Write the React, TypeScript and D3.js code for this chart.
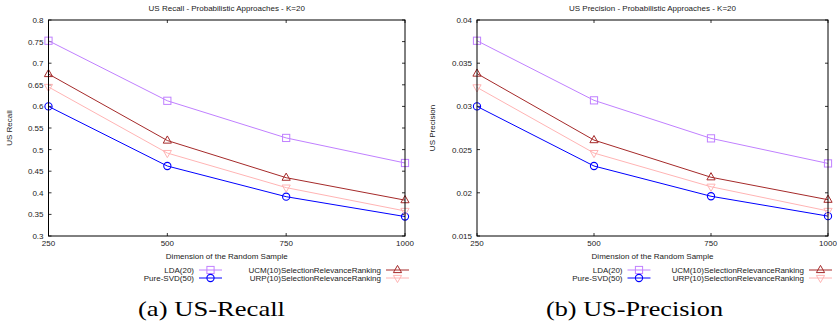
import { useEffect, useRef } from "react";
import * as d3 from "d3";

const sampleSizes = [250, 500, 750, 1000];
const seriesNames = [
  "LDA(20)",
  "Pure-SVD(50)",
  "UCM(10)SelectionRelevanceRanking",
  "URP(10)SelectionRelevanceRanking",
];
const seriesColors = ["#c080ff", "#0000ff", "#a52a2a", "#ffb4b4"];
const seriesMarkers = ["square", "circle", "triUp", "triDown"];

const recallLDA = [0.752, 0.613, 0.527, 0.469];
const recallSVD = [0.6, 0.462, 0.391, 0.345];
const recallUCM = [0.675, 0.521, 0.435, 0.383];
const recallURP = [0.645, 0.492, 0.412, 0.358];

const precLDA = [0.0376, 0.0307, 0.0263, 0.0234];
const precSVD = [0.03, 0.0231, 0.0196, 0.0173];
const precUCM = [0.0338, 0.0261, 0.0218, 0.0192];
const precURP = [0.0322, 0.0246, 0.0207, 0.0179];

const recallTicks = [0.3, 0.35, 0.4, 0.45, 0.5, 0.55, 0.6, 0.65, 0.7, 0.75, 0.8];
const precTicks = [0.015, 0.02, 0.025, 0.03, 0.035, 0.04];

const panels = [
  {
    title: "US Recall - Probabilistic Approaches - K=20",
    yLabel: "US Recall",
    caption: "(a) US-Recall",
    captionX: 211.5,
    captionW: 147,
    series: [recallLDA, recallSVD, recallUCM, recallURP],
    yDomain: [0.3, 0.8],
    yTicks: recallTicks,
    fmt: (v: number) => String(+v.toFixed(2)),
    left: 48.5,
    right: 405,
    yLabelX: 12,
  },
  {
    title: "US Precision - Probabilistic Approaches - K=20",
    yLabel: "US Precision",
    caption: "(b) US-Precision",
    captionX: 634.5,
    captionW: 177,
    series: [precLDA, precSVD, precUCM, precURP],
    yDomain: [0.015, 0.04],
    yTicks: precTicks,
    fmt: (v: number) => (+v.toFixed(3)).toString(),
    left: 477,
    right: 828,
    yLabelX: 435,
  },
];

const TOP = 20;
const BOTTOM = 236;
const FONT = "Liberation Sans, Arial, sans-serif";

function drawMarker(g: any, kind: string, x: number, y: number, color: string) {
  const s = 3.6;
  if (kind === "square") {
    g.append("rect")
      .attr("x", x - s)
      .attr("y", y - s)
      .attr("width", 2 * s)
      .attr("height", 2 * s)
      .attr("fill", "none")
      .attr("stroke", color)
      .attr("stroke-width", 1);
  } else if (kind === "circle") {
    g.append("circle")
      .attr("cx", x)
      .attr("cy", y)
      .attr("r", s)
      .attr("fill", "none")
      .attr("stroke", color)
      .attr("stroke-width", 1.1);
  } else {
    const up = kind === "triUp";
    const h = s * 1.0;
    const pts = up
      ? [[x, y - h - 1], [x - s - 0.5, y + h - 1], [x + s + 0.5, y + h - 1]]
      : [[x, y + h + 1], [x - s - 0.5, y - h + 1], [x + s + 0.5, y - h + 1]];
    g.append("polygon")
      .attr("points", pts.map((p) => p.join(",")).join(" "))
      .attr("fill", "none")
      .attr("stroke", color)
      .attr("stroke-width", 1);
  }
}

export default function App() {
  const svgRef = useRef<SVGSVGElement>(null);

  useEffect(() => {
    if (!svgRef.current) return;
    const svg = d3.select(svgRef.current);
    svg.selectAll("*").remove();

    panels.forEach((p) => {
      const g = svg.append("g");
      const x = d3.scaleLinear().domain([250, 1000]).range([p.left, p.right]);
      const y = d3.scaleLinear().domain(p.yDomain).range([BOTTOM, TOP]);
      const cx = (p.left + p.right) / 2;

      // title
      g.append("text")
        .attr("x", cx)
        .attr("y", 11)
        .attr("text-anchor", "middle")
        .attr("font-family", FONT)
        .attr("font-size", 8)
        .attr("fill", "#222")
        .text(p.title);

      // y ticks (mirrored)
      p.yTicks.forEach((t) => {
        const yy = y(t);
        g.append("line")
          .attr("x1", p.left).attr("x2", p.left + 3)
          .attr("y1", yy).attr("y2", yy)
          .attr("stroke", "#000").attr("stroke-width", 0.8);
        g.append("line")
          .attr("x1", p.right).attr("x2", p.right - 3)
          .attr("y1", yy).attr("y2", yy)
          .attr("stroke", "#000").attr("stroke-width", 0.8);
        g.append("text")
          .attr("x", p.left - 5)
          .attr("y", yy + 3)
          .attr("text-anchor", "end")
          .attr("font-family", FONT)
          .attr("font-size", 8)
          .attr("fill", "#222")
          .text(p.fmt(t));
      });

      // x ticks (mirrored)
      sampleSizes.forEach((t) => {
        const xx = x(t);
        g.append("line")
          .attr("x1", xx).attr("x2", xx)
          .attr("y1", BOTTOM).attr("y2", BOTTOM - 3)
          .attr("stroke", "#000").attr("stroke-width", 0.8);
        g.append("line")
          .attr("x1", xx).attr("x2", xx)
          .attr("y1", TOP).attr("y2", TOP + 3)
          .attr("stroke", "#000").attr("stroke-width", 0.8);
        g.append("text")
          .attr("x", xx)
          .attr("y", 246)
          .attr("text-anchor", "middle")
          .attr("font-family", FONT)
          .attr("font-size", 8)
          .attr("fill", "#222")
          .text(t);
      });

      // y label
      g.append("text")
        .attr("transform", `translate(${p.yLabelX},${(TOP + BOTTOM) / 2}) rotate(-90)`)
        .attr("text-anchor", "middle")
        .attr("font-family", FONT)
        .attr("font-size", 8)
        .attr("fill", "#222")
        .text(p.yLabel);

      // x label
      g.append("text")
        .attr("x", cx)
        .attr("y", 259)
        .attr("text-anchor", "middle")
        .attr("font-family", FONT)
        .attr("font-size", 8)
        .attr("fill", "#222")
        .text("Dimension of the Random Sample");

      // series
      const line = d3
        .line<number>()
        .x((_, i) => x(sampleSizes[i]))
        .y((d) => y(d));
      p.series.forEach((vals, si) => {
        const color = seriesColors[si];
        g.append("path")
          .attr("d", line(vals))
          .attr("fill", "none")
          .attr("stroke", color)
          .attr("stroke-width", 1);
        vals.forEach((v, i) =>
          drawMarker(g, seriesMarkers[si], x(sampleSizes[i]), y(v), color),
        );
      });

      // frame
      g.append("rect")
        .attr("x", p.left)
        .attr("y", TOP)
        .attr("width", p.right - p.left)
        .attr("height", BOTTOM - TOP)
        .attr("fill", "none")
        .attr("stroke", "#000")
        .attr("stroke-width", 1);

      // legend: two columns, two rows
      const colEnds = [p.left + 145.5, p.right - 24];
      seriesNames.forEach((name, si) => {
        const col = si < 2 ? 0 : 1;
        const row = si % 2;
        const ty = 270 + row * 8;
        const tx = colEnds[col];
        g.append("text")
          .attr("x", tx)
          .attr("y", ty + 3)
          .attr("text-anchor", "end")
          .attr("font-family", FONT)
          .attr("font-size", 8)
          .attr("fill", "#222")
          .text(name);
        g.append("line")
          .attr("x1", tx + 5)
          .attr("x2", tx + 28)
          .attr("y1", ty)
          .attr("y2", ty)
          .attr("stroke", seriesColors[si])
          .attr("stroke-width", 1);
        drawMarker(g, seriesMarkers[si], tx + 16.5, ty, seriesColors[si]);
      });

      // caption
      g.append("text")
        .attr("x", p.captionX)
        .attr("y", 316)
        .attr("text-anchor", "middle")
        .attr("font-family", "Liberation Serif, serif")
        .attr("font-size", 22)
        .attr("textLength", p.captionW)
        .attr("lengthAdjust", "spacingAndGlyphs")
        .attr("fill", "#000")
        .text(p.caption);
    });
  }, []);

  return (
    <svg
      ref={svgRef}
      width={837}
      height={325}
      style={{ position: "absolute", left: 0, top: 0, background: "#fff" }}
    />
  );
}
